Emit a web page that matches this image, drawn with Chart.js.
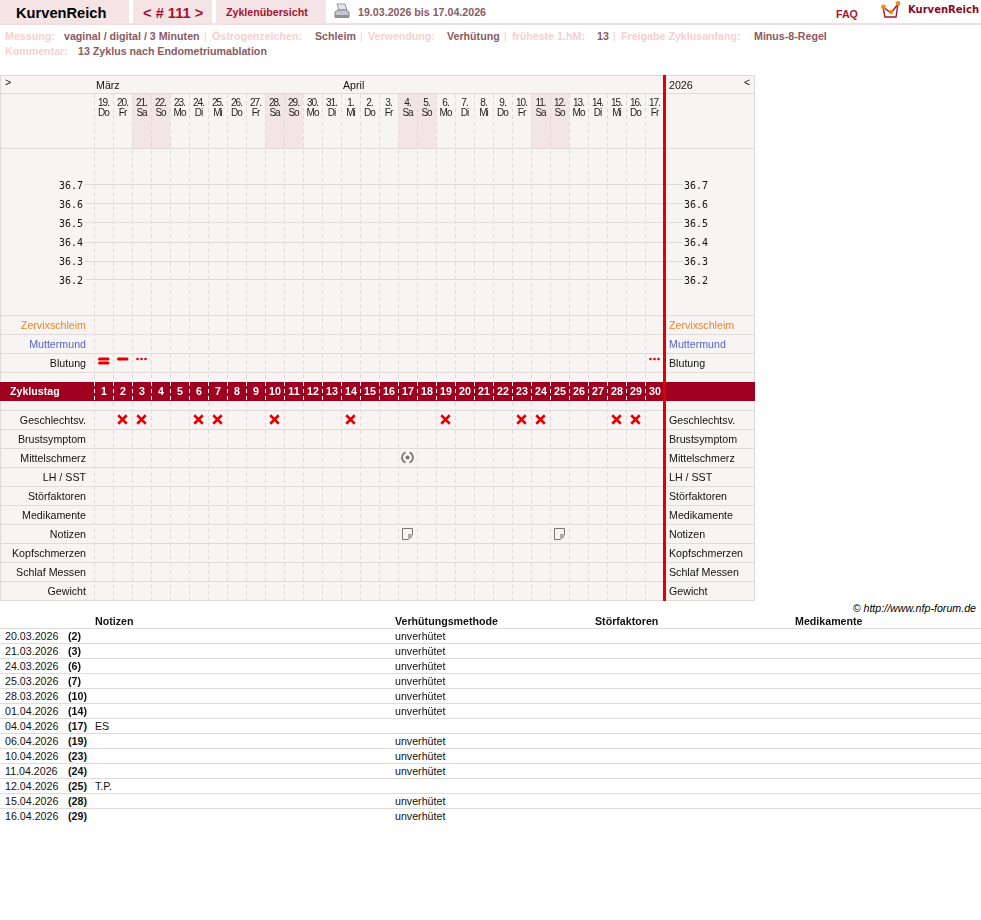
<!DOCTYPE html>
<html lang="de">
<head>
<meta charset="utf-8">
<title>KurvenReich</title>
<script src="https://cdn.jsdelivr.net/npm/chart.js@4"></script>
<style>
	html, body { margin: 0; padding: 0; background: #fff; }
	body { position: relative; width: 981px; height: 920px; overflow: hidden; font: 10.67px/14px 'Liberation Sans', Arial, sans-serif; color: #111; }
	.abs { position: absolute; white-space: pre; }
	.tab { position: absolute; top: 0; height: 23px; background: #f4e4e6; }
	.rule { position: absolute; left: 0; width: 981px; }
	.b { font-weight: bold; }
	.key { color: #f6cfd2; font-weight: bold; }
	.val { color: #8a5a62; font-weight: bold; }
	.sep { color: #f6cfd2; }
	#chartBox { position: absolute; left: 0; top: 75px; width: 755px; height: 540px; }
</style>
</head>
<body>
<div class="tab" style="left:0;width:129px"></div>
<div class="tab" style="left:133px;width:79px"></div>
<div class="tab" style="left:216px;width:110px"></div>
<div class="rule" style="top:23px;height:2px;background:#f4dfe2"></div>

<div class="abs" style="left:16px;top:4px;font-size:14.67px;line-height:18px;font-weight:bold;color:#000">KurvenReich</div>
<div class="abs" style="left:143px;top:4px;font-size:14.67px;line-height:18px;font-weight:bold;color:#a3142e">&lt; # 111 &gt;</div>
<div class="abs b" style="left:226px;top:5px;color:#a3142e">Zyklenübersicht</div>
<div class="abs val" style="left:358px;top:5px">19.03.2026 bis 17.04.2026</div>
<div class="abs b" style="left:836px;top:7px;color:#a3142e">FAQ</div>
<div class="abs" style="left:908px;top:3px;font:bold 10px/14px 'DejaVu Sans';color:#8c0a24">KurvenReich</div>

<!-- Printer icon -->
<svg class="abs" style="left:334px;top:3px" width="16" height="18" viewBox="0 0 16 18">
	<path d="M3 1h8l2 6H5z" fill="#dfe6ee" stroke="#8e98a4"/>
	<path d="M1 9l3-2h8l3 2v5H1z" fill="#c4c8cc" stroke="#7d8389"/>
	<rect x="1" y="12" width="14" height="3" fill="#8d9196"/>
</svg>

<!-- Logo -->
<svg class="abs" style="left:880px;top:0" width="22" height="20" viewBox="0 0 22 20">
	<path d="M3 7l2 10h11l2-13M3 7l8 6 7-9" fill="none" stroke="#a8142f" stroke-width="1.4"/>
	<circle cx="3.5" cy="7" r="2.4" fill="#f08a1d"/>
	<circle cx="11" cy="12" r="2.2" fill="#f08a1d"/>
	<circle cx="18" cy="3.5" r="2.4" fill="#f08a1d"/>
</svg>

<div id="info"></div>
<div id="chartBox"><canvas id="cycleChart" width="755" height="540"></canvas></div>
<div class="abs" style="right:5px;top:601px;font-style:italic;color:#000">© http://www.nfp-forum.de</div>
<div id="notes"></div>

<script>
// Calendar across the top of the cycle
const dayLabels = ['19.', '20.', '21.', '22.', '23.', '24.', '25.', '26.', '27.', '28.', '29.', '30.', '31.', '1.', '2.', '3.', '4.', '5.', '6.', '7.', '8.', '9.', '10.', '11.', '12.', '13.', '14.', '15.', '16.', '17.'];
const weekdayLabels = ['Do', 'Fr', 'Sa', 'So', 'Mo', 'Di', 'Mi', 'Do', 'Fr', 'Sa', 'So', 'Mo', 'Di', 'Mi', 'Do', 'Fr', 'Sa', 'So', 'Mo', 'Di', 'Mi', 'Do', 'Fr', 'Sa', 'So', 'Mo', 'Di', 'Mi', 'Do', 'Fr'];
const cycleDays = ['1', '2', '3', '4', '5', '6', '7', '8', '9', '10', '11', '12', '13', '14', '15', '16', '17', '18', '19', '20', '21', '22', '23', '24', '25', '26', '27', '28', '29', '30'];
const monthLabels = ['März', 'April'];
const monthStartDays = ['1', '14'];

// Temperature axis and symptom rows
const tempTicks = [36.7, 36.6, 36.5, 36.4, 36.3, 36.2];
const upperRows = ['Zervixschleim', 'Muttermund', 'Blutung'];
const lowerRows = ['Geschlechtsv.', 'Brustsymptom', 'Mittelschmerz', 'LH / SST', 'Störfaktoren', 'Medikamente', 'Notizen', 'Kopfschmerzen', 'Schlaf Messen', 'Gewicht'];

// Observations, by cycle day
const heavyBleedingDays = ['1'];
const mediumBleedingDays = ['2'];
const lightBleedingDays = ['3', '30'];
const intercourseDays = ['2', '3', '6', '7', '10', '14', '19', '23', '24', '28', '29'];
const mittelschmerzDays = ['17'];
const noteDays = ['17', '25'];

// Table below the chart
const tableDates = ['20.03.2026', '21.03.2026', '24.03.2026', '25.03.2026', '28.03.2026', '01.04.2026', '04.04.2026', '06.04.2026', '10.04.2026', '11.04.2026', '12.04.2026', '15.04.2026', '16.04.2026'];
const tableCycleDays = ['(2)', '(3)', '(6)', '(7)', '(10)', '(14)', '(17)', '(19)', '(23)', '(24)', '(25)', '(28)', '(29)'];
const tableNotes = ['', '', '', '', '', '', 'ES', '', '', '', 'T.P.', '', ''];
const tableMethods = ['unverhütet', 'unverhütet', 'unverhütet', 'unverhütet', 'unverhütet', 'unverhütet', '', 'unverhütet', 'unverhütet', 'unverhütet', '', 'unverhütet', 'unverhütet'];
const tableHeaders = ['Notizen', 'Verhütungsmethode', 'Störfaktoren', 'Medikamente'];

const infoLine = [
	['key', 5, 29, 'Messung:'], ['val', 64, 29, 'vaginal / digital / 3 Minuten'], ['sep', 204, 29, '|'],
	['key', 212, 29, 'Östrogenzeichen:'], ['val', 315, 29, 'Schleim'], ['sep', 360, 29, '|'],
	['key', 368, 29, 'Verwendung:'], ['val', 447, 29, 'Verhütung'], ['sep', 504, 29, '|'],
	['key', 512, 29, 'früheste 1.hM:'], ['val', 597, 29, '13'], ['sep', 613, 29, '|'],
	['key', 621, 29, 'Freigabe Zyklusanfang:'], ['val', 754, 29, 'Minus-8-Regel'],
	['key', 5, 44, 'Kommentar:'], ['val', 78, 44, '13 Zyklus nach Endometriumablation'],
];

const PANEL = '#f9f4f4';
const LINE = '#e0dbdb';
const WEEKEND = '#f3e4e6';
const BAND = '#a00020';
const RED = '#e00000';
const ROW_COLORS = { Zervixschleim: '#f58220', Muttermund: '#5566cc' };

Chart.defaults.font.family = "'Liberation Sans'";

function addText(parent, cls, left, top, text) {
	const el = document.createElement('div');
	el.className = 'abs ' + cls;
	el.style.left = left + 'px';
	el.style.top = top + 'px';
	el.textContent = text;
	parent.appendChild(el);
}

const info = document.getElementById('info');
infoLine.forEach(([cls, left, top, text]) => addText(info, cls, left, top, text));

const notes = document.getElementById('notes');
const columnsX = [95, 395, 595, 795];
tableHeaders.forEach((text, i) => addText(notes, 'b', columnsX[i], 614, text));
tableDates.forEach((date, i) => {
	const top = 629 + i * 15;
	addText(notes, '', 5, top, date);
	addText(notes, 'b', 68, top, tableCycleDays[i]);
	addText(notes, '', 95, top, tableNotes[i]);
	addText(notes, '', 395, top, tableMethods[i]);
	const rule = document.createElement('div');
	rule.className = 'rule';
	rule.style.cssText = `top:${top - 1}px;height:1px;background:#dcdcdc`;
	notes.appendChild(rule);
});

// Small symbols used as point styles
function icon(width, height, paint) {
	const c = document.createElement('canvas');
	c.width = width;
	c.height = height;
	paint(c.getContext('2d'));
	return c;
}

function bar(g, y) {
	g.fillStyle = RED;
	g.beginPath();
	g.roundRect(4, y, 11.5, 3, 1.5);
	g.fill();
}

const heavyIcon = icon(19, 19, (g) => { bar(g, 4.5); bar(g, 8.5); });
const mediumIcon = icon(19, 19, (g) => bar(g, 4.5));
const lightIcon = icon(19, 19, (g) => {
	g.fillStyle = RED;
	[5, 9, 13].forEach((x) => {
		g.beginPath();
		g.arc(x + 0.5, 6, 1.3, 0, Math.PI * 2);
		g.fill();
	});
});
const painIcon = icon(15, 15, (g) => {
	g.strokeStyle = '#777';
	g.fillStyle = '#777';
	g.lineWidth = 1.8;
	g.beginPath();
	g.arc(7.5, 7.5, 5.5, Math.PI * 0.62, Math.PI * 1.38);
	g.stroke();
	g.beginPath();
	g.arc(7.5, 7.5, 5.5, -Math.PI * 0.38, Math.PI * 0.38);
	g.stroke();
	g.beginPath();
	g.arc(7.5, 7.5, 2, 0, Math.PI * 2);
	g.fill();
});
const noteIcon = icon(13, 13, (g) => {
	g.fillStyle = '#f7f3f3';
	g.fillRect(1, 1, 11, 11);
	g.strokeStyle = '#777';
	g.lineWidth = 1;
	g.beginPath();
	g.moveTo(1.5, 12.5);
	g.lineTo(1.5, 1.5);
	g.lineTo(11.5, 1.5);
	g.lineTo(11.5, 7.5);
	g.lineTo(7.5, 12.5);
	g.closePath();
	g.stroke();
	g.fillStyle = '#aaa';
	g.fillRect(7, 7, 4, 4);
});

function markers(days, row, style, extra) {
	return Object.assign({
		data: days.map((day) => ({ x: day, y: row })),
		yAxisID: 'yRows',
		showLine: false,
		pointStyle: style,
		pointRadius: 5,
		pointBorderColor: RED,
		pointBackgroundColor: RED,
	}, extra);
}

// One slot per 19px row: header and curve space, symptoms, a two-slot gap for the day band, more symptoms
const rowLabels = [...Array(12).fill(''), ...upperRows, '', '', ...lowerRows];
const FIRST_ROW = 12;

// 36.7 sits 98px under the plot top, 0.1 degree takes one 19px row
const tempMax = 36.7 + 98 / 190;
const tempMin = tempMax - (27 * 19) / 190;

function rowLabelColor(ctx) {
	return ROW_COLORS[rowLabels[ctx.index]] || '#111';
}

function rowLineColor(ctx) {
	return ctx.index < FIRST_ROW ? 'transparent' : LINE;
}

function rowAxis(position, width) {
	return {
		axis: 'y',
		type: 'category',
		labels: rowLabels,
		position: position,
		weight: 1,
		offset: true,
		afterFit: (scale) => { scale.width = width; },
		border: { display: false },
		grid: { offset: true, color: rowLineColor, tickLength: width },
		ticks: { autoSkip: false, padding: -86, labelOffset: 2, color: rowLabelColor, font: { size: 10.67 } },
	};
}

// Zero width so it shares the box of the row axis; mirror keeps the labels from being clipped to that box
function tempAxis(position, tick, padding, onArea) {
	return {
		axis: 'y',
		type: 'linear',
		position: position,
		weight: 0,
		min: tempMin,
		max: tempMax,
		afterFit: (scale) => {
			scale.width = 0;
			scale.paddingTop = 0;
			scale.paddingBottom = 0;
		},
		afterBuildTicks: (scale) => { scale.ticks = tempTicks.map((value) => ({ value })); },
		border: { display: false },
		grid: { color: LINE, tickLength: tick, drawOnChartArea: onArea },
		ticks: {
			autoSkip: false,
			mirror: true,
			padding: padding,
			labelOffset: 1,
			color: '#111',
			font: { family: 'DejaVu Sans Mono', size: 10 },
			callback: (value) => value.toFixed(1),
		},
	};
}

function drawText(g, text, x, y, font, color, align) {
	g.font = font;
	g.fillStyle = color;
	g.textAlign = align || 'left';
	g.textBaseline = 'middle';
	g.fillText(text, x, y);
}

// Everything in the chart frame that is not a scale or a dataset
const chartFrame = {
	id: 'chartFrame',
	beforeDraw(chart) {
		const g = chart.ctx;
		const x = chart.scales.x;
		const col = x.width / cycleDays.length;
		g.save();
		g.fillStyle = PANEL;
		g.fillRect(0, 0, 755, 526);
		g.fillStyle = WEEKEND;
		weekdayLabels.forEach((day, i) => {
			if (day === 'Sa' || day === 'So') g.fillRect(x.left + i * col, 18, col, 55);
		});
		g.restore();
	},
	beforeDatasetsDraw(chart) {
		const g = chart.ctx;
		const x = chart.scales.x;
		const col = x.width / cycleDays.length;
		const font = "10.67px 'Liberation Sans'";
		g.save();

		// month strip sits over the top of the grid
		g.fillStyle = PANEL;
		g.fillRect(0, 0, 755, 18);

		// header rules and outer frame
		g.fillStyle = LINE;
		g.fillRect(0, 0, 755, 1);
		g.fillRect(0, 18, 755, 1);
		g.fillRect(0, 73, 755, 1);
		g.fillRect(0, 0, 1, 526);
		g.fillRect(754, 0, 1, 526);

		monthLabels.forEach((label, i) => {
			drawText(g, label, x.getPixelForValue(cycleDays.indexOf(monthStartDays[i])) - col / 2 + 2, 11, font, '#111');
		});
		drawText(g, '2026', 669, 11, font, '#111');
		drawText(g, '>', 5, 8, font, '#111');
		drawText(g, '<', 744, 8, font, '#111');

		g.letterSpacing = '-1px';
		dayLabels.forEach((label, i) => {
			const cx = x.getPixelForValue(i);
			drawText(g, label, cx, 28, "10px 'Liberation Sans'", '#222', 'center');
			drawText(g, weekdayLabels[i], cx, 38, "10px 'Liberation Sans'", '#222', 'center');
		});
		g.letterSpacing = '0px';

		// cycle day band
		g.fillStyle = BAND;
		g.fillRect(0, 307, 755, 19);
		g.strokeStyle = '#fff';
		g.setLineDash([4, 3]);
		g.beginPath();
		for (let i = 0; i < cycleDays.length; i++) {
			const lx = Math.round(x.left + i * col) + 0.5;
			g.moveTo(lx, 307);
			g.lineTo(lx, 326);
		}
		g.stroke();
		g.setLineDash([]);
		drawText(g, 'Zyklustag', 10, 317, "bold 10.67px 'Liberation Sans'", '#fff');
		cycleDays.forEach((day, i) => {
			drawText(g, day, x.getPixelForValue(i) + 0.5, 317, "bold 10.67px 'Liberation Sans'", '#fff', 'center');
		});

		// end of cycle marker
		g.fillStyle = RED;
		g.fillRect(663, 0, 3, 526);
		g.restore();
	},
};

const cycleChart = new Chart(document.getElementById('cycleChart').getContext('2d'), {
	type: 'line',
	data: {
		labels: cycleDays,
		datasets: [
			markers(heavyBleedingDays, 'Blutung', heavyIcon),
			markers(mediumBleedingDays, 'Blutung', mediumIcon),
			markers(lightBleedingDays, 'Blutung', lightIcon),
			markers(intercourseDays, 'Geschlechtsv.', 'crossRot', { pointRadius: 6, pointBorderWidth: 2.5 }),
			markers(mittelschmerzDays, 'Mittelschmerz', painIcon),
			markers(noteDays, 'Notizen', noteIcon),
		],
	},
	options: {
		responsive: false,
		animation: false,
		layout: { padding: { top: 12, bottom: 15, left: 0, right: 0 } },
		plugins: { legend: { display: false }, tooltip: { enabled: false } },
		scales: {
			x: {
				type: 'category',
				offset: true,
				border: { display: false, dash: [4, 3] },
				grid: { offset: true, color: LINE, drawTicks: false },
				ticks: { display: false },
			},
			yRows: rowAxis('left', 94),
			yTemp: tempAxis('left', 9, -35, true),
			yRowsRight: rowAxis('right', 91),
			yTempRight: tempAxis('right', 19, 44, false),
		},
	},
	plugins: [chartFrame],
});
</script>
</body>
</html>
